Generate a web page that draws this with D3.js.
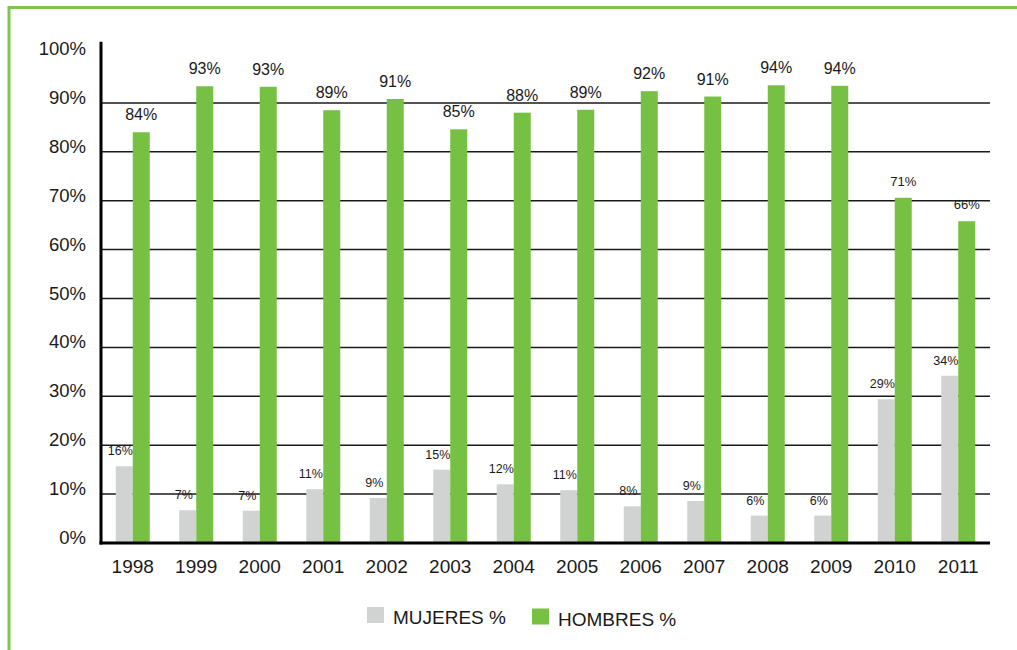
<!doctype html>
<html>
<head>
<meta charset="utf-8">
<script src="https://cdnjs.cloudflare.com/ajax/libs/d3/7.8.5/d3.min.js"></script>
<style>
  body { margin: 0; background: #fff; }
  svg { display: block; font-family: "Liberation Sans", Arial, sans-serif; }
  .grid line { stroke: #1a1a1a; stroke-width: 1.5; }
  .lbl { fill: #1a1a1a; }
</style>
</head>
<body>
<svg width="1017" height="650"></svg>
<script>
var years = ["1998","1999","2000","2001","2002","2003","2004","2005","2006","2007","2008","2009","2010","2011"];
var mujeres = [15.7, 6.7, 6.6, 11.0, 9.2, 15.0, 12.0, 10.8, 7.5, 8.6, 5.6, 5.6, 29.4, 34.2];
var hombres = [84.0, 93.4, 93.3, 88.5, 90.8, 84.6, 88.0, 88.6, 92.4, 91.3, 93.6, 93.5, 70.6, 65.8];
var yTicks = [0, 10, 20, 30, 40, 50, 60, 70, 80, 90, 100];
var series = ["MUJERES %", "HOMBRES %"];
var colors = ["#d1d2d2", "#76c043"];

var svg = d3.select("svg");

// green frame
svg.append("line").attr("x1", 9).attr("x2", 1017).attr("y1", 7.5).attr("y2", 7.5)
  .attr("stroke", "#7dc54e").attr("stroke-width", 3);
svg.append("line").attr("x1", 9).attr("x2", 9).attr("y1", 6).attr("y2", 650)
  .attr("stroke", "#7dc54e").attr("stroke-width", 3);

var left = 101, right = 990;
var y = d3.scaleLinear().domain([0, 100]).range([543, 54]);
var x = d3.scaleBand().domain(years).range([left, right]).padding(0);
var xs = d3.scaleBand().domain([0, 1]).range([0, x.bandwidth()]).paddingInner(0).paddingOuter(0.868);

// gridlines
svg.append("g").attr("class", "grid")
  .selectAll("line").data(yTicks.filter(function(d){ return d > 0 && d < 100; }))
  .enter().append("line")
  .attr("x1", left).attr("x2", right)
  .attr("y1", function(d){ return y(d); }).attr("y2", function(d){ return y(d); });

// y labels
svg.append("g").selectAll("text").data(yTicks).enter().append("text")
  .attr("class", "lbl")
  .attr("x", 86).attr("y", function(d){ return y(d) + 1; })
  .attr("text-anchor", "end").attr("font-size", 18.5)
  .text(function(d){ return d + "%"; });

var fmt = function(v){ return Math.round(v) + "%"; };

var groups = svg.append("g").selectAll("g").data(years).enter().append("g")
  .attr("transform", function(d){ return "translate(" + x(d) + ",0)"; });

// bars
groups.append("rect")
  .attr("x", xs(0)).attr("width", xs.bandwidth())
  .attr("y", function(d, i){ return y(mujeres[i]); })
  .attr("height", function(d, i){ return y(0) - y(mujeres[i]); })
  .attr("fill", colors[0]);
groups.append("rect")
  .attr("x", xs(1)).attr("width", xs.bandwidth())
  .attr("y", function(d, i){ return y(hombres[i]); })
  .attr("height", function(d, i){ return y(0) - y(hombres[i]); })
  .attr("fill", colors[1]);

// value labels
groups.append("text").attr("class", "lbl")
  .attr("x", xs(0) + xs.bandwidth() / 2 - 4)
  .attr("y", function(d, i){ return y(mujeres[i]) - 11; })
  .attr("text-anchor", "middle").attr("font-size", 12.5)
  .text(function(d, i){ return fmt(mujeres[i]); });
groups.append("text").attr("class", "lbl")
  .attr("x", xs(1) + xs.bandwidth() / 2)
  .attr("y", function(d, i){ return y(hombres[i]) - 12; })
  .attr("text-anchor", "middle")
  .attr("font-size", function(d, i){ return hombres[i] < 80 ? 13 : 16; })
  .text(function(d, i){ return fmt(hombres[i]); });

// axis lines
svg.append("line").attr("x1", left).attr("x2", left).attr("y1", y(102.5)).attr("y2", y(0) + 1.5)
  .attr("stroke", "#000").attr("stroke-width", 3);
svg.append("line").attr("x1", left - 1.5).attr("x2", right).attr("y1", y(0)).attr("y2", y(0))
  .attr("stroke", "#000").attr("stroke-width", 3);

// year labels
svg.append("g").selectAll("text").data(years).enter().append("text")
  .attr("class", "lbl")
  .attr("x", function(d){ return x(d) + x.bandwidth() / 2; })
  .attr("y", 573).attr("text-anchor", "middle").attr("font-size", 19)
  .text(function(d){ return d; });

// legend
var legX = [367, 532];
var leg = svg.append("g").selectAll("g").data(series).enter().append("g")
  .attr("transform", function(d, i){ return "translate(" + legX[i] + "," + (607 + i * 1.5) + ")"; });
leg.append("rect").attr("width", 17).attr("height", 16)
  .attr("fill", function(d, i){ return colors[i]; });
leg.append("text").attr("class", "lbl").attr("x", 26).attr("y", 17)
  .attr("font-size", 19).text(function(d){ return d; });
</script>
</body>
</html>
